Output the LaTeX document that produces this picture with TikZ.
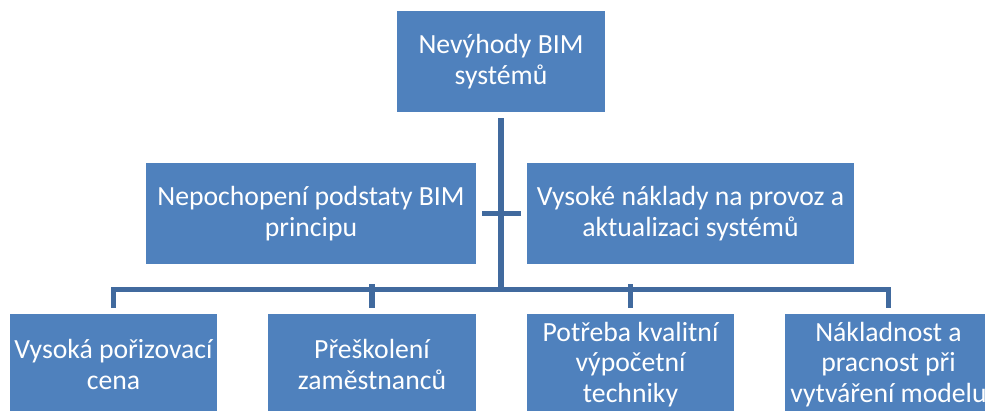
\documentclass[tikz,border=0pt]{standalone}
\usepackage{fontspec}
\setmainfont{Carlito}
\definecolor{boxblue}{RGB}{79,129,189}
\definecolor{lineblue}{RGB}{65,106,158}
\begin{document}
\begin{tikzpicture}[x=1pt,y=-1pt,
  box/.style={fill=boxblue, text=white, inner sep=0pt, align=center,
    minimum height=101pt, font=\fontsize{27.7}{30.5}\selectfont},
  link/.style={draw=lineblue, line width=5.5pt, line join=miter}]
\useasboundingbox (0,0) rectangle (985,410);
\clip (0,0) rectangle (985,410);

% top level
\node[box, minimum width=208pt] (top) at (501,61.5) {Nevýhody BIM\\systémů};

% middle level
\node[box, minimum width=330pt] (ml) at (311,213.5) {Nepochopení podstaty BIM\\principu};
\node[box, minimum width=327pt] (mr) at (690.5,213.5) {Vysoké náklady na provoz a\\aktualizaci systémů};

% bottom level
\node[box, minimum width=207pt] (b1) at (113.5,364.5) {Vysoká pořizovací\\cena};
\node[box, minimum width=208pt] (b2) at (372,364.5) {Přeškolení\\zaměstnanců};
\node[box, minimum width=207pt] (b3) at (630.5,364.5) {Potřeba kvalitní\\výpočetní\\techniky};
\node[box, minimum width=207pt] (b4) at (888.5,364.5) {Nákladnost a\\pracnost při\\vytváření modelu};

% connectors
\coordinate (bus) at (501,289.5);
\draw[link] ([yshift=-6pt]top.south) -- (bus);
\draw[link] ([xshift=6pt]ml.east) -- ([xshift=-6pt]mr.west);
\draw[link] ([yshift=6pt]b1.north) |- (bus);
\draw[link] ([yshift=6pt]b4.north) |- (bus);
\draw[link] ([yshift=6pt]b2.north) -- ([yshift=6pt]b2.north |- bus);
\draw[link] ([yshift=6pt]b3.north) -- ([yshift=6pt]b3.north |- bus);
\end{tikzpicture}
\end{document}
